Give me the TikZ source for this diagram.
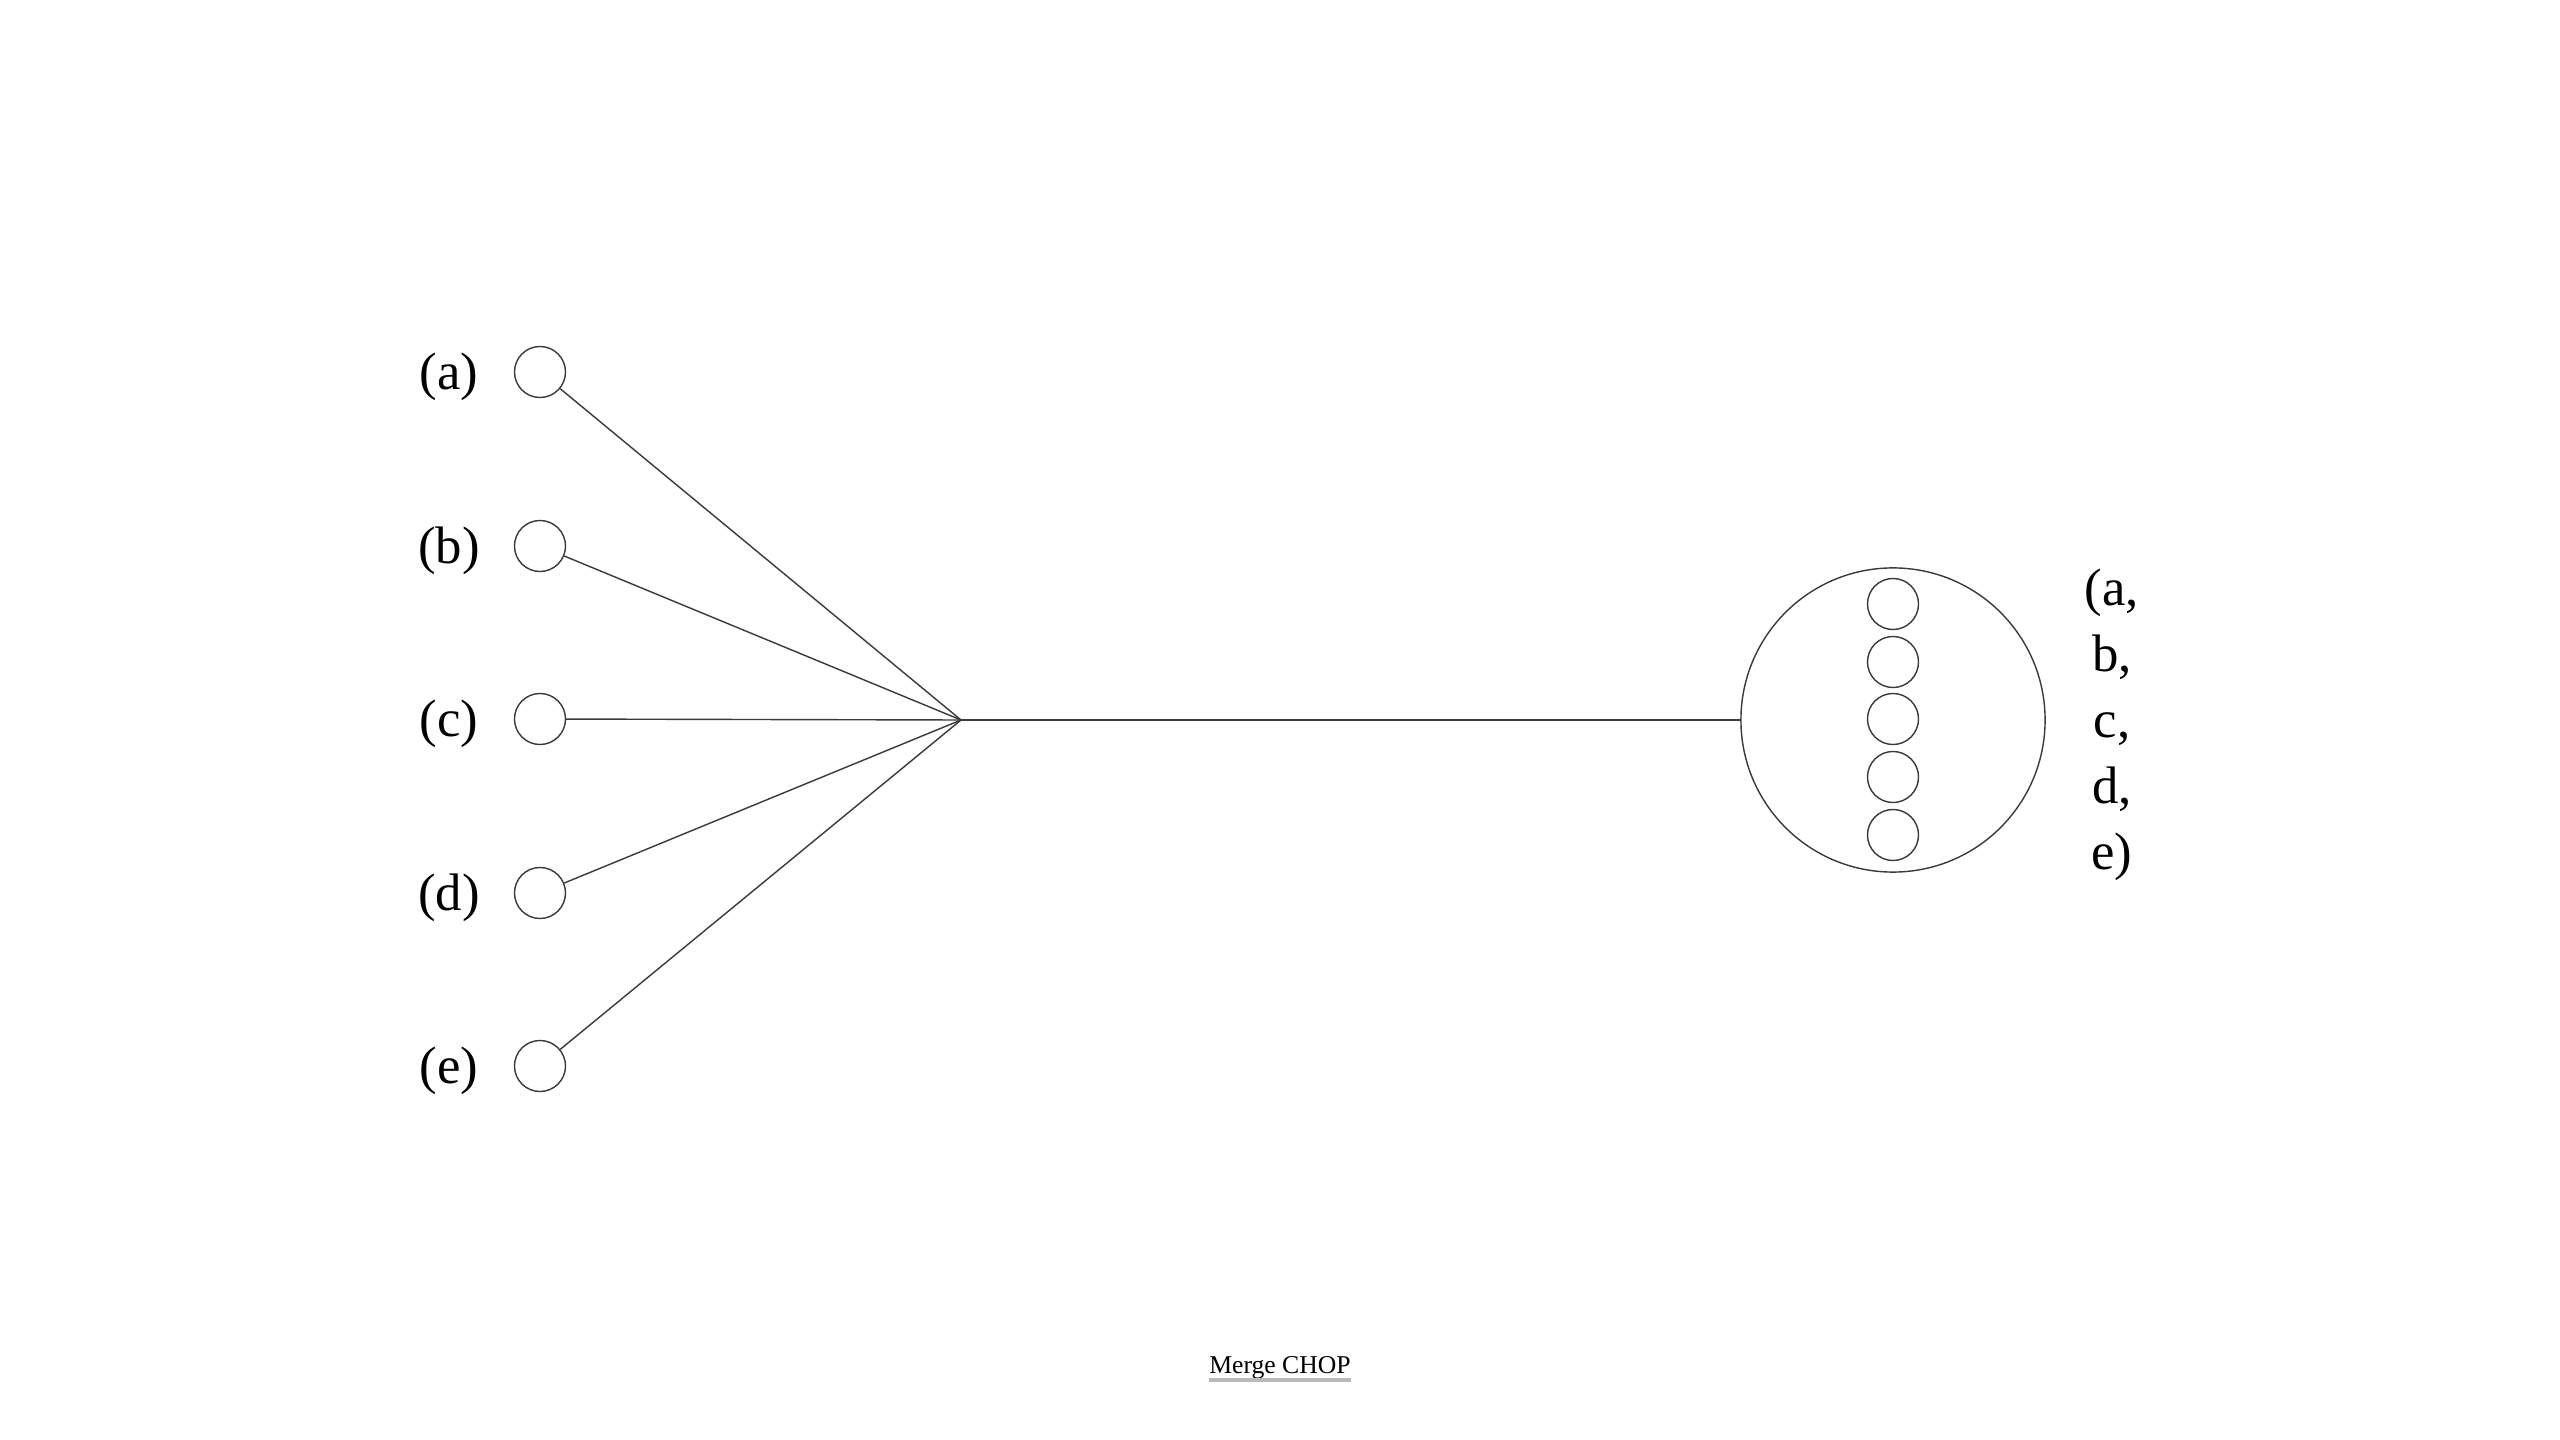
\documentclass[tikz,border=0pt]{standalone}
\usepackage{fontspec}
\setmainfont{Liberation Serif}
\definecolor{ink}{HTML}{3A3A3A}
\begin{document}
\begin{tikzpicture}[x=0.01cm,y=-0.01cm,
  lbl/.style={inner sep=0pt,font=\fontsize{15pt}{18.8pt}\selectfont,text=black},
  smallc/.style={circle,draw=ink,line width=0.4pt,minimum size=0.51cm,inner sep=0pt},
  bigc/.style={circle,draw=ink,line width=0.4pt,minimum size=3.04cm,inner sep=0pt},
  wire/.style={draw=ink,line width=0.4pt}]
\useasboundingbox (0,0) rectangle (2560,1440);
\fill[white] (0,0) rectangle (2560,1440);
% left inputs
\foreach \n/\y in {a/372,b/546,c/719,d/893,e/1066}{
  \node[smallc] (in\n) at (540,\y) {};
  \node[lbl] (l\n) at (449,\y+5) {(\n)};
}
\coordinate (j) at (961,720);
\foreach \n in {a,b,c,d,e}{\draw[wire] (in\n) -- (j);}
% merged output
\node[bigc] (out) at (1893,720) {};
\foreach \i/\y in {1/604,2/662,3/719,4/777,5/835}{
  \node[smallc] (o\i) at (1893,\y) {};
}
\draw[wire] (j) -- (out.west);
\node[lbl,align=center] (ol) at (2112,725) {(a,\\b,\\c,\\d,\\e)};
% caption
\node[inner sep=0pt,anchor=base,font=\fontsize{7.3pt}{9pt}\selectfont] (cap) at (1280,1373) {Merge CHOP};
\draw[gray!55,line width=0.9pt] ([yshift=-0.07cm]cap.base west) -- ([yshift=-0.07cm]cap.base east);
\end{tikzpicture}
\end{document}
